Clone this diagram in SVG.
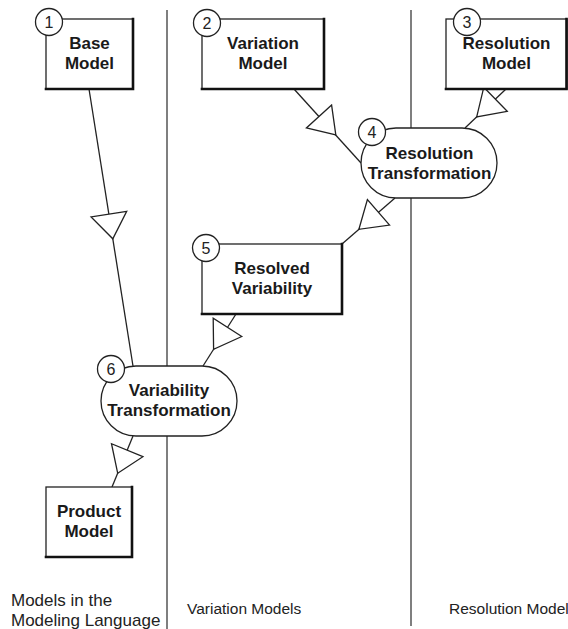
<svg xmlns="http://www.w3.org/2000/svg" width="568" height="629" viewBox="0 0 568 629">
  <style>
    .sep { stroke: #555; stroke-width: 1.5; fill: none; }
    .edge { stroke: #222; stroke-width: 1.3; fill: none; }
    .head { stroke: #222; stroke-width: 1.3; fill: #fff; stroke-linejoin: miter; }
    .box { fill: #fff; stroke: #222; stroke-width: 1.3; }
    .shadow { fill: none; stroke: #111; stroke-width: 2.6; stroke-linecap: square; }
    .proc { fill: #fff; stroke: #222; stroke-width: 1.3; }
    .num { fill: #fff; stroke: #222; stroke-width: 1.3; }
    .numtxt { font-family: "Liberation Sans", Arial, sans-serif; font-size: 16px; fill: #222; text-anchor: middle; }
    .lbl { font-family: "Liberation Sans", Arial, sans-serif; font-size: 17px; font-weight: bold; fill: #1a1a1a; text-anchor: middle; }
    .col { font-family: "Liberation Sans", Arial, sans-serif; font-size: 15.5px; fill: #222; }
    .col-wide { font-size: 17px; }
  </style>

  <!-- column separators -->
  <g id="separators">
    <line class="sep" x1="167" y1="10" x2="167" y2="629"/>
    <line class="sep" x1="411" y1="10" x2="411" y2="626"/>
  </g>

  <!-- connectors with hollow triangular heads -->
  <g id="connectors">
    <line class="edge" x1="89" y1="89" x2="133" y2="366"/>
    <polygon class="head" points="126.7,211.3 91.1,216.9 112.8,238.8"/>

    <line class="edge" x1="294" y1="89" x2="361" y2="163"/>
    <polygon class="head" points="331.6,105.1 306.4,127.9 335.8,135"/>

    <line class="edge" x1="506" y1="89" x2="465" y2="128"/>
    <polygon class="head" points="507.2,111.3 483.8,87.2 476.7,116.9"/>

    <line class="edge" x1="395" y1="198" x2="342" y2="244"/>
    <polygon class="head" points="389.6,225.1 367.4,199.5 358.9,229.3"/>

    <line class="edge" x1="236" y1="314" x2="203" y2="366"/>
    <polygon class="head" points="241.8,336.5 213.2,318.3 213.6,349.3"/>

    <line class="edge" x1="133" y1="436" x2="112" y2="487"/>
    <polygon class="head" points="142.9,456.7 111.5,443.7 117.7,473.3"/>
  </g>

  <g id="node1">
    <rect class="box" x="46" y="19" width="87" height="70"/>
    <polyline class="shadow" points="133,19 133,89 46,89"/>
    <text class="lbl" x="89.5" y="49">Base</text>
    <text class="lbl" x="89.5" y="69">Model</text>
    <circle class="num" cx="49" cy="22" r="13.5"/>
    <text class="numtxt" x="49" y="27.7">1</text>
  </g>

  <g id="node2">
    <rect class="box" x="202" y="19" width="122" height="70"/>
    <polyline class="shadow" points="324,19 324,89 202,89"/>
    <text class="lbl" x="263" y="49">Variation</text>
    <text class="lbl" x="263" y="69">Model</text>
    <circle class="num" cx="207" cy="23" r="13.5"/>
    <text class="numtxt" x="207" y="28.7">2</text>
  </g>

  <g id="node3">
    <rect class="box" x="446" y="19" width="121" height="70"/>
    <polyline class="shadow" points="566.5,19 566.5,89 446,89"/>
    <circle class="num" cx="467" cy="22" r="13.5"/>
    <text class="numtxt" x="467" y="27.7">3</text>
    <text class="lbl" x="506.5" y="49">Resolution</text>
    <text class="lbl" x="506.5" y="69">Model</text>
  </g>

  <g id="node4">
    <rect class="proc" x="361" y="128" width="136" height="70" rx="35" ry="35"/>
    <text class="lbl" x="429.5" y="159">Resolution</text>
    <text class="lbl" x="429.5" y="179">Transformation</text>
    <circle class="num" cx="372" cy="132" r="13.5"/>
    <text class="numtxt" x="372" y="137.7">4</text>
  </g>

  <g id="node5">
    <rect class="box" x="202" y="244" width="140" height="70"/>
    <polyline class="shadow" points="342,244 342,314 202,314"/>
    <text class="lbl" x="272" y="274">Resolved</text>
    <text class="lbl" x="272" y="294">Variability</text>
    <circle class="num" cx="206" cy="248" r="13.5"/>
    <text class="numtxt" x="206" y="253.7">5</text>
  </g>

  <g id="node6">
    <rect class="proc" x="101" y="366" width="136" height="70" rx="35" ry="35"/>
    <text class="lbl" x="169" y="396">Variability</text>
    <text class="lbl" x="169" y="416">Transformation</text>
    <circle class="num" cx="111" cy="369" r="13.5"/>
    <text class="numtxt" x="111" y="374.7">6</text>
  </g>

  <g id="node7">
    <rect class="box" x="46" y="487" width="86" height="70"/>
    <polyline class="shadow" points="132,487 132,557 46,557"/>
    <text class="lbl" x="89" y="517">Product</text>
    <text class="lbl" x="89" y="537">Model</text>
  </g>

  <!-- column captions -->
  <g id="captions">
    <text class="col col-wide" x="11" y="606">Models in the</text>
    <text class="col col-wide" x="11" y="626">Modeling Language</text>
    <text class="col" x="187" y="614">Variation Models</text>
    <text class="col" x="449" y="614" font-size="15">Resolution Model</text>
  </g>
</svg>
